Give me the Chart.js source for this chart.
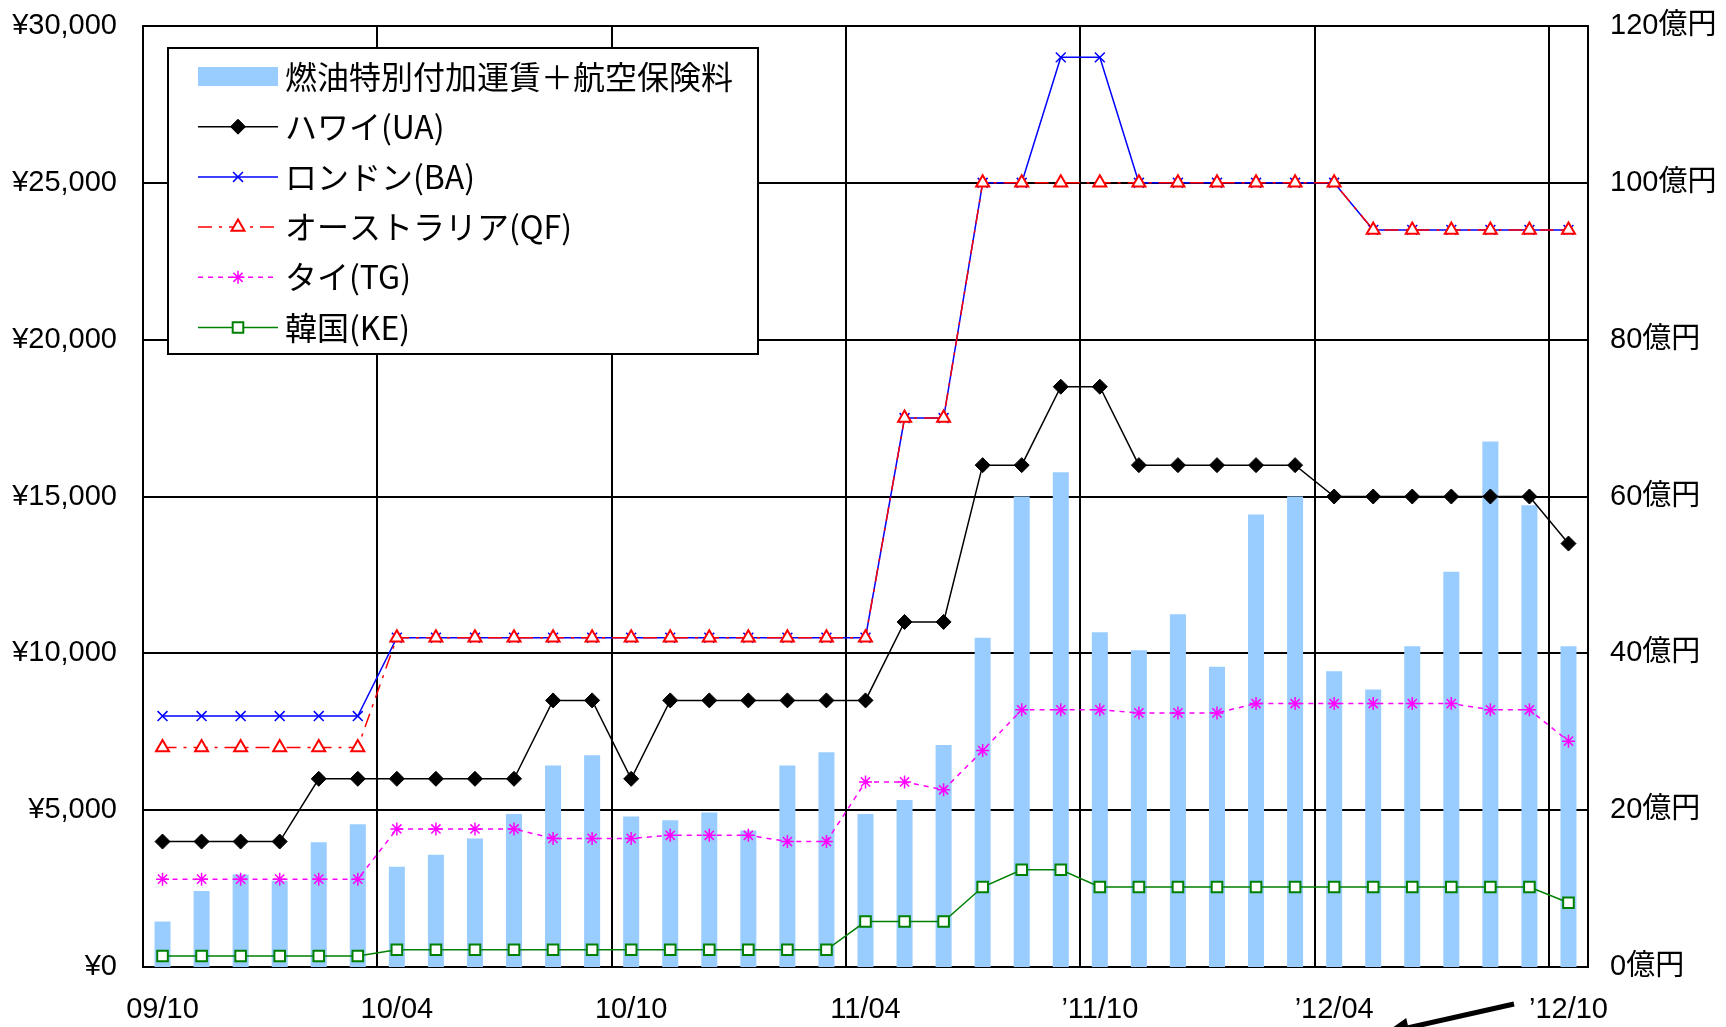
<!DOCTYPE html>
<html lang="ja">
<head>
<meta charset="utf-8">
<title>燃油特別付加運賃の推移</title>
<script src="https://cdn.jsdelivr.net/npm/chart.js@4/dist/chart.umd.min.js"></script>
<style>
  html, body { margin: 0; padding: 0; background: #fff; }
  #wrap { width: 1726px; height: 1027px; }
</style>
</head>
<body>
<div id="wrap"><canvas id="c" width="1726" height="1027"></canvas></div>
<script>
// Monthly categories, Oct 2009 – Oct 2012
const months = [
  '09/10','09/11','09/12','10/01','10/02','10/03',
  '10/04','10/05','10/06','10/07','10/08','10/09',
  '10/10','10/11','10/12','11/01','11/02','11/03',
  '11/04','11/05','11/06','11/07','11/08','11/09',
  '11/10','11/11','11/12','12/01','12/02','12/03',
  '12/04','12/05','12/06','12/07','12/08','12/09',
  '12/10'
];
// Labels shown under every sixth month
const axisLabels = ['09/10','10/04','10/10','11/04','’11/10','’12/04','’12/10'];

// Fuel surcharge + aviation insurance revenue (億円, right axis)
const surchargeTotal = [
  5.8, 9.7, 11.8, 11.0, 15.9, 18.2,
  12.8, 14.3, 16.4, 19.5, 25.7, 27.0,
  19.2, 18.7, 19.7, 17.4, 25.7, 27.4,
  19.5, 21.3, 28.3, 42.0, 60.0, 63.1,
  42.7, 40.4, 45.0, 38.3, 57.7, 60.0,
  37.7, 35.4, 40.9, 50.4, 67.0, 58.9,
  40.9
];

// Per-route surcharges (円, left axis)
const hawaiiUA = [
  4000, 4000, 4000, 4000, 6000, 6000,
  6000, 6000, 6000, 6000, 8500, 8500,
  6000, 8500, 8500, 8500, 8500, 8500,
  8500, 11000, 11000, 16000, 16000, 18500,
  18500, 16000, 16000, 16000, 16000, 16000,
  15000, 15000, 15000, 15000, 15000, 15000,
  13500
];
const londonBA = [
  8000, 8000, 8000, 8000, 8000, 8000,
  10500, 10500, 10500, 10500, 10500, 10500,
  10500, 10500, 10500, 10500, 10500, 10500,
  10500, 17500, 17500, 25000, 25000, 29000,
  29000, 25000, 25000, 25000, 25000, 25000,
  25000, 23500, 23500, 23500, 23500, 23500,
  23500
];
const australiaQF = [
  7000, 7000, 7000, 7000, 7000, 7000,
  10500, 10500, 10500, 10500, 10500, 10500,
  10500, 10500, 10500, 10500, 10500, 10500,
  10500, 17500, 17500, 25000, 25000, 25000,
  25000, 25000, 25000, 25000, 25000, 25000,
  25000, 23500, 23500, 23500, 23500, 23500,
  23500
];
const thaiTG = [
  2800, 2800, 2800, 2800, 2800, 2800,
  4400, 4400, 4400, 4400, 4100, 4100,
  4100, 4200, 4200, 4200, 4000, 4000,
  5900, 5900, 5650, 6900, 8200, 8200,
  8200, 8100, 8100, 8100, 8400, 8400,
  8400, 8400, 8400, 8400, 8200, 8200,
  7200
];
const koreaKE = [
  350, 350, 350, 350, 350, 350,
  550, 550, 550, 550, 550, 550,
  550, 550, 550, 550, 550, 550,
  1450, 1450, 1450, 2550, 3100, 3100,
  2550, 2550, 2550, 2550, 2550, 2550,
  2550, 2550, 2550, 2550, 2550, 2550,
  2050
];

const FONT = '"Liberation Sans", "Noto Sans CJK JP", sans-serif';
Chart.defaults.font.family = FONT;
Chart.defaults.color = '#000';

function markerFallback(ctx, style, r, x, y) {
  ctx.beginPath();
  if (style === 'rectRot') {
    ctx.moveTo(x, y - r); ctx.lineTo(x + r, y); ctx.lineTo(x, y + r); ctx.lineTo(x - r, y); ctx.closePath();
    ctx.fill(); ctx.stroke();
  } else if (style === 'rect') {
    const s = r * Math.SQRT1_2;
    ctx.rect(x - s, y - s, 2 * s, 2 * s); ctx.fill(); ctx.stroke();
  } else if (style === 'triangle') {
    ctx.moveTo(x, y - r); ctx.lineTo(x + r * 0.866, y + r / 2); ctx.lineTo(x - r * 0.866, y + r / 2); ctx.closePath();
    ctx.fill(); ctx.stroke();
  } else {
    const d = r * Math.SQRT1_2;
    ctx.moveTo(x - d, y - d); ctx.lineTo(x + d, y + d);
    ctx.moveTo(x - d, y + d); ctx.lineTo(x + d, y - d);
    if (style === 'star') { ctx.moveTo(x, y - r); ctx.lineTo(x, y + r); ctx.moveTo(x - r, y); ctx.lineTo(x + r, y); }
    ctx.stroke();
  }
}

// Boxed legend inside the plot, upper left
const boxLegend = {
  id: 'boxLegend',
  afterDatasetsDraw(chart) {
    const ctx = chart.ctx;
    const L = 168, T = 48, R = 758, B = 354;
    ctx.save();
    ctx.fillStyle = '#fff';
    ctx.fillRect(L, T, R - L, B - T);
    ctx.strokeStyle = '#000';
    ctx.lineWidth = 2;
    ctx.strokeRect(L, T, R - L, B - T);
    ctx.font = '32px "Noto Sans CJK JP", sans-serif';
    ctx.textBaseline = 'middle';
    ctx.textAlign = 'left';
    chart.data.datasets.forEach((ds, i) => {
      const y = 76.5 + i * 50.2;
      const x0 = 198, x1 = 278, xm = 238;
      if (ds.type === 'bar') {
        ctx.fillStyle = ds.backgroundColor;
        ctx.fillRect(x0, y - 9.5, x1 - x0, 19);
      } else {
        ctx.strokeStyle = ds.borderColor;
        ctx.lineWidth = ds.borderWidth;
        ctx.setLineDash(ds.borderDash || []);
        ctx.beginPath(); ctx.moveTo(x0, y); ctx.lineTo(x1, y); ctx.stroke();
        ctx.setLineDash([]);
        ctx.strokeStyle = ds.pointBorderColor;
        ctx.fillStyle = ds.pointBackgroundColor;
        ctx.lineWidth = ds.pointBorderWidth;
        if (Chart.helpers && Chart.helpers.drawPoint) {
          Chart.helpers.drawPoint(ctx, { pointStyle: ds.pointStyle, radius: ds.pointRadius, rotation: 0, borderWidth: ds.pointBorderWidth }, xm, y);
        } else {
          markerFallback(ctx, ds.pointStyle, ds.pointRadius, xm, y);
        }
      }
      ctx.fillStyle = '#000';
      ctx.fillText(ds.label, 285, y);
    });
    ctx.restore();
  }
};

// Pointer arrow below the last month
const arrowNote = {
  id: 'arrowNote',
  afterDraw(chart) {
    const ctx = chart.ctx;
    const sx = 1514, sy = 1004, tx = 1385, ty = 1033;
    const len = Math.hypot(tx - sx, ty - sy);
    const ux = (tx - sx) / len, uy = (ty - sy) / len;
    const bx = tx - ux * 24, by = ty - uy * 24;
    ctx.save();
    ctx.strokeStyle = '#000';
    ctx.fillStyle = '#000';
    ctx.lineWidth = 5;
    ctx.beginPath(); ctx.moveTo(sx, sy); ctx.lineTo(bx, by); ctx.stroke();
    ctx.beginPath();
    ctx.moveTo(tx, ty);
    ctx.lineTo(bx - uy * 10, by + ux * 10);
    ctx.lineTo(bx + uy * 10, by - ux * 10);
    ctx.closePath(); ctx.fill();
    ctx.restore();
  }
};

const tickFont = { size: 29, family: FONT };

// Fixed axis widths; drop the extra top/bottom padding vertical axes reserve for labels
const fixVertical = w => s => { s.width = w; s.paddingTop = 0; s.paddingBottom = 0; };

new Chart(document.getElementById('c'), {
  type: 'bar',
  data: {
    labels: months,
    datasets: [
      { type: 'bar', label: '燃油特別付加運賃＋航空保険料', data: surchargeTotal, yAxisID: 'y1',
        backgroundColor: '#99CCFF', borderWidth: 0, categoryPercentage: 1, barPercentage: 0.41, order: 10 },
      { type: 'line', label: 'ハワイ(UA)', data: hawaiiUA, yAxisID: 'y',
        borderColor: '#000', borderWidth: 1.5, tension: 0,
        pointStyle: 'rectRot', pointRadius: 7.5, pointBorderWidth: 1,
        pointBackgroundColor: '#000', pointBorderColor: '#000', order: 5 },
      { type: 'line', label: 'ロンドン(BA)', data: londonBA, yAxisID: 'y',
        borderColor: '#0000FF', borderWidth: 1.5, tension: 0,
        pointStyle: 'crossRot', pointRadius: 7, pointBorderWidth: 1.5,
        pointBackgroundColor: '#0000FF', pointBorderColor: '#0000FF', order: 4 },
      { type: 'line', label: 'オーストラリア(QF)', data: australiaQF, yAxisID: 'y',
        borderColor: '#FF0000', borderWidth: 1.5, borderDash: [14, 7, 3, 7], tension: 0,
        pointStyle: 'triangle', pointRadius: 7.5, pointBorderWidth: 2,
        pointBackgroundColor: '#fff', pointBorderColor: '#FF0000', order: 3 },
      { type: 'line', label: 'タイ(TG)', data: thaiTG, yAxisID: 'y',
        borderColor: '#FF00FF', borderWidth: 1.5, borderDash: [5, 5], tension: 0,
        pointStyle: 'star', pointRadius: 6.5, pointBorderWidth: 1.5,
        pointBackgroundColor: '#FF00FF', pointBorderColor: '#FF00FF', order: 2 },
      { type: 'line', label: '韓国(KE)', data: koreaKE, yAxisID: 'y',
        borderColor: '#008000', borderWidth: 1.5, tension: 0,
        pointStyle: 'rect', pointRadius: 7.5, pointBorderWidth: 2,
        pointBackgroundColor: '#fff', pointBorderColor: '#008000', order: 1 }
    ]
  },
  options: {
    responsive: false,
    animation: false,
    devicePixelRatio: 1,
    layout: { padding: { top: 26, left: 0, right: 0, bottom: 0 } },
    plugins: { legend: { display: false }, tooltip: { enabled: false } },
    scales: {
      x: {
        offset: true,
        grid: {
          offset: true, drawTicks: false, lineWidth: 2,
          color: c => (c.index % 6 === 0 && c.index > 0) ? '#000' : 'rgba(0,0,0,0)'
        },
        border: { color: '#000', width: 2 },
        ticks: {
          autoSkip: false, maxRotation: 0, minRotation: 0, padding: 26, font: tickFont, color: '#000',
          callback: (v, i) => (i % 6 === 0 ? axisLabels[i / 6] : '')
        },
        afterFit: s => { s.height = 60; }
      },
      y: {
        position: 'left', min: 0, max: 30000,
        grid: { color: '#000', lineWidth: 2, drawTicks: false },
        border: { color: '#000', width: 2 },
        ticks: {
          stepSize: 5000, padding: 26, font: tickFont, color: '#000',
          callback: v => '¥' + Number(v).toLocaleString('en-US')
        },
        afterFit: fixVertical(143)
      },
      y1: {
        position: 'right', min: 0, max: 120,
        grid: { display: false, drawTicks: false },
        border: { color: '#000', width: 2 },
        ticks: {
          stepSize: 20, padding: 22, font: tickFont, color: '#000',
          callback: v => v + '億円'
        },
        afterFit: fixVertical(138)
      }
    }
  },
  plugins: [boxLegend, arrowNote]
});
</script>
</body>
</html>
